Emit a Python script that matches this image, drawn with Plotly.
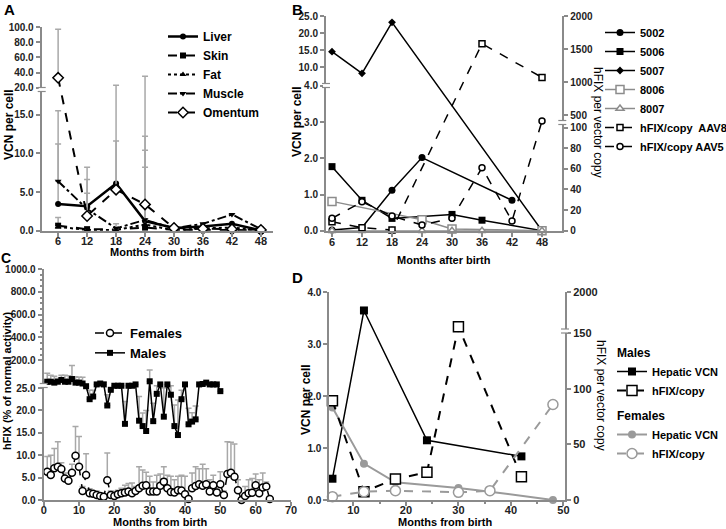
import plotly.graph_objects as go

W, H = 726, 529
FONT = "Arial, Liberation Sans, sans-serif"
GREY = "#8c8c8c"
ERRC = "#a8a8a8"
AXC = "#8a8a8a"

# ---------------- A: VCN per cell by tissue
months_a = [6, 12, 18, 24, 30, 36, 42, 48]
liver = [3.45, 3.15, 6.1, 1.25, 0.35, 0.55, 0.9, 0.05]
skin = [0.65, 0.2, 0.15, 0.4, 0.1, 0.1, 0.1, 0.0]
fat = [0.5, 0.1, 0.1, 0.8, 0.05, 0.3, 0.4, 0.05]
muscle = [6.4, 2.8, 0.3, 1.4, 0.3, 0.9, 2.1, 0.2]
omentum = [33.0, 1.9, 5.3, 3.4, 0.35, 0.25, 0.2, 0.1]
# tops of the one-sided error bars
liver_top = [11.2, 4.85, 11.6, 10.4, None, None, None, None]
skin_top = [1.7, None, None, 8.2, None, None, None, None]
fat_top = [None, None, None, 12.2, None, None, None, None]
muscle_top = [15.5, 8.2, 0.9, None, None, None, None, 0.5]
omentum_top = [97.5, 6.6, 23.0, 35.0, None, None, None, None]
ticks_a = [0, 5, 10, 15, 20, 40, 60, 80, 100]

# ---------------- B: individual animals
months_b = [6, 12, 18, 24, 30, 36, 42, 48]
vcn_5002 = [0.02, 0.09, 1.12, 2.02, None, None, 0.84, None]
vcn_5006 = [1.77, 0.84, 0.34, None, 0.45, 0.29, None, 0.0]
vcn_5007 = [14.56, 8.24, 23.15, None, None, None, None, 0.0]
vcn_8006 = [0.81, None, None, 0.3, 0.05, None, None, 0.0]
vcn_8007 = [0.0, 0.0, 0.0, 0.0, 0.0, 0.0, None, 0.0]
hfix_aav8 = [8.7, 2.9, 0.7, None, None, 1585, None, 1075]
hfix_aav5 = [12, 28, 14.2, 5.5, 12, 61, 9.4, 414]
ticks_bl = [0, 1, 2, 3, 4, 10, 15, 20, 25]
ticks_br = [0, 20, 40, 60, 80, 100, 500, 1000, 1500, 2000]

# ---------------- C: hFIX activity
females = [6.3, 5.6, 7.1, 7.4, 6.9, 4.8, 4.3, 6.1, 9.9, 7.4,
           2.0, 5.6, 1.5, 1.4, 1.1, 0.9, 0.7, 4.4, 1.1, 0.9,
           1.3, 1.5, 1.7, 1.9, 1.5, 2.0, 2.6, 3.2, 3.3, 1.9,
           1.9, 1.9, 3.2, 4.1, 2.6, 1.8, 1.7, 2.2, 2.1, 1.3,
           0.2, 2.6, 3.1, 3.5, 3.2, 3.5, 1.9, 3.3, 1.7, 3.5,
           1.1, 5.8, 6.1, 5.2, 2.2, 0.0, 0.9, 1.5, 1.6, 3.3,
           1.5, 2.8, 3.0, 0.2]
females_top = [9.7, 10.0, 11.5, 13.0, 8.3, 6.0, 5.0, 8.0, 16.4, 14.2,
               3.0, 10.3, 2.5, 2.0, 2.0, 1.5, 1.2, 10.5, 2.0, 1.9,
               2.2, 2.6, 3.3, 3.7, 3.8, 3.0, 7.4, 6.7, 6.2, 5.3,
               4.0, 5.5, 5.8, 7.4, 5.5, 5.3, 4.5, 5.3, 5.5, 5.3,
               2.0, 6.0, 7.4, 7.0, 8.0, 7.0, 4.5, 5.5, 3.5, 6.3,
               2.0, 13.0, 12.9, 12.5, 4.5, 0.5, 3.0, 4.5, 4.8, 5.8,
               4.5, 6.0, 4.0, 0.5]
males = [26.4, 26.4, 26.2, 26.4, 28.0, 26.4, 26.4, 36.0, 26.2, 26.2,
         26.0, 25.4, 22.5, 23.1, 25.8, 26.0, 25.8, 21.1, 24.6, 25.5,
         25.5, 25.5, 17.0, 25.5, 25.5, 25.8, 17.7, 16.5, 15.4, 26.5,
         17.6, 23.7, 25.8, 18.6, 25.8, 23.5, 16.5, 14.5, 22.5, 25.8,
         16.9, 17.5, 18.0, 25.8, 25.9, 26.2, 25.8, 25.8, 25.8, 24.3]
males_top = [87, 70, 60, 40, 70, 70, 65, 155, 55, 52,
             52, None, 24.5, 24.5, None, None, 26.3, 23.5, None, None,
             None, None, 22.0, None, None, None, 23.1, 19.4, 20.0, 115,
             21.6, 25.5, None, 25.0, None, 25.5, 21.2, 22.3, 24.5, None,
             20.5, 19.5, 21.0, None, None, None, None, None, None, None]
months_f = list(range(1, len(females) + 1))
months_m = list(range(1, len(males) + 1))
ticks_c = [0, 5, 10, 15, 20, 25, 200, 400, 600, 800, 1000]

# ---------------- D: males vs females
months_d = [6, 12, 18, 24, 30, 36, 42, 48]
male_vcn = [0.41, 3.65, None, 1.15, None, None, 0.84, None]
male_hfix = [89.4, 7.5, 18.9, 24.9, 156, None, 21, None]
female_vcn = [1.78, 0.70, 0.34, None, 0.23, 0.16, None, 0.0]
female_hfix = [3.0, 7.5, 8.4, None, 6.9, 8.4, None, 86]
ticks_dr = [0, 50, 100, 150, 2000]


# broken axis scales (piecewise linear, like the GraphPad segments)
def a_scale(v):
    return v if v <= 18.3 else 18.49 + (v - 20) * 0.0974


def bl_scale(v):
    return v if v <= 4.02 else 4.514 + (v - 10) * 0.0945


def br_scale(v):
    return v if v <= 100 else 111.8 + (v - 500) * 0.064


def c_scale(v):
    return v if v <= 26.6 else 31.18 + (v - 200) * 0.02548


def d_scale(v):
    return v if v <= 160 else 160 + (v - 160) * 0.014674


def tr(vals, f):
    return [None if v is None else f(v) for v in vals]


def err_up(vals, tops, f):
    out = []
    for v, t in zip(vals, tops):
        out.append(None if (v is None or t is None) else f(t) - f(v))
    return out


def fmt1(v):
    return f"{v:.1f}"


fig = go.Figure()


def add(x, y, f, name, xa, ya, leg, color="black", dash="solid", width=1.5,
        symbol="circle", size=7, open_=False, tops=None, group=None, gtitle=None):
    marker = dict(symbol=symbol, size=size, color="white" if open_ else color,
                  line=dict(color=color, width=1.5 if open_ else 0))
    tr_kw = dict(x=x, y=tr(y, f), name=name, mode="lines+markers",
                 line=dict(color=color, dash=dash, width=width), marker=marker,
                 connectgaps=True, xaxis=xa, yaxis=ya, legend=leg, cliponaxis=False)
    if tops is not None:
        tr_kw["error_y"] = dict(type="data", symmetric=False, array=err_up(y, tops, f),
                                arrayminus=[0] * len(y), color=ERRC, thickness=1.5, width=3)
    if group:
        tr_kw["legendgroup"] = group
        tr_kw["legendgrouptitle"] = dict(text=gtitle, font=dict(family=FONT, size=12, weight="bold"))
    fig.add_trace(go.Scatter(**tr_kw))


# A
add(months_a, liver, a_scale, "Liver", "x", "y", "legend", width=2.5, size=6, tops=liver_top)
add(months_a, skin, a_scale, "Skin", "x", "y", "legend", dash="dash", width=2, symbol="square", size=6, tops=skin_top)
add(months_a, fat, a_scale, "Fat", "x", "y", "legend", dash="dot", width=2, symbol="triangle-up", size=6, tops=fat_top)
add(months_a, muscle, a_scale, "Muscle", "x", "y", "legend", dash="dashdot", width=2, symbol="triangle-down", size=6, tops=muscle_top)
add(months_a, omentum, a_scale, "Omentum", "x", "y", "legend", dash="dash", width=2, symbol="diamond", size=8, open_=True, tops=omentum_top)

# B
add(months_b, vcn_5002, bl_scale, "5002", "x2", "y2", "legend2")
add(months_b, vcn_5006, bl_scale, "5006", "x2", "y2", "legend2", symbol="square")
add(months_b, vcn_5007, bl_scale, "5007", "x2", "y2", "legend2", symbol="diamond", size=6)
add(months_b, vcn_8006, bl_scale, "8006", "x2", "y2", "legend2", color=GREY, symbol="square", size=8, open_=True)
add(months_b, vcn_8007, bl_scale, "8007", "x2", "y2", "legend2", color=GREY, symbol="triangle-up", size=7, open_=True)
add(months_b, hfix_aav8, br_scale, "hFIX/copy  AAV8", "x2", "y3", "legend2", dash="dash", symbol="square", size=6, open_=True)
add(months_b, hfix_aav5, br_scale, "hFIX/copy AAV5", "x2", "y3", "legend2", dash="dash", symbol="circle", size=6, open_=True)

# C
add(months_f, females, c_scale, "Females", "x3", "y4", "legend3", dash="dash", symbol="circle", size=7, open_=True, tops=females_top)
add(months_m, males, c_scale, "Males", "x3", "y4", "legend3", symbol="square", size=6, tops=males_top)

# D
add(months_d, male_vcn, lambda v: v, "Hepatic VCN", "x4", "y5", "legend4", symbol="square", size=8, group="m", gtitle="Males")
add(months_d, male_hfix, d_scale, "hFIX/copy", "x4", "y6", "legend4", dash="dash", width=2, symbol="square", size=10, open_=True, group="m", gtitle="Males")
add(months_d, female_vcn, lambda v: v, "Hepatic VCN", "x4", "y5", "legend4", color="#9a9a9a", width=2, symbol="circle", size=8, group="f", gtitle="Females")
add(months_d, female_hfix, d_scale, "hFIX/copy", "x4", "y6", "legend4", color="#9a9a9a", dash="dash", width=2, symbol="circle", size=10, open_=True, group="f", gtitle="Females")


def px(p):
    return p / W


def py(p):
    return 1 - p / H


tickfont = dict(family=FONT, size=10, color="#222", weight="bold")
xtickfont = dict(family=FONT, size=11, color="#222", weight="bold")
axis_common = dict(showline=True, linecolor=AXC, linewidth=2, ticks="outside", ticklen=4,
                   tickcolor=AXC, tickwidth=1.5, showgrid=False, zeroline=False)

fig.update_layout(
    width=W, height=H, margin=dict(l=0, r=0, t=0, b=0, autoexpand=False),
    paper_bgcolor="white", plot_bgcolor="white",
    font=dict(family=FONT, color="black"),
    xaxis=dict(domain=[px(41.7), px(273)], range=[2.6, 50.5], anchor="y",
               tickvals=months_a, tickfont=xtickfont, ticklabelstandoff=-5, **axis_common),
    yaxis=dict(domain=[py(230.7), py(27.3)], range=[0, a_scale(100)], anchor="x",
               tickvals=tr(ticks_a, a_scale), ticktext=[fmt1(t) for t in ticks_a],
               tickfont=tickfont, **axis_common),
    xaxis2=dict(domain=[px(326), px(562.3)], range=[4.8, 52.06], anchor="y2",
                tickvals=months_b, tickfont=xtickfont, ticklabelstandoff=-4, **axis_common),
    yaxis2=dict(domain=[py(230.7), py(16)], range=[0, bl_scale(25)], anchor="x2",
                tickvals=tr(ticks_bl, bl_scale), ticktext=[fmt1(t) for t in ticks_bl],
                tickfont=tickfont, **axis_common),
    yaxis3=dict(overlaying="y2", side="right", anchor="x2", range=[0, br_scale(2000) + 0.3],
                tickvals=tr(ticks_br, br_scale), ticktext=[str(t) for t in ticks_br],
                tickfont=tickfont, **axis_common),
    xaxis3=dict(domain=[px(43.7), px(291)], range=[0, 70], anchor="y4", dtick=10,
                tickfont=xtickfont, ticklabelstandoff=-5, **axis_common),
    yaxis4=dict(domain=[py(500), py(269)], range=[0, c_scale(1000)], anchor="x3",
                tickvals=tr(ticks_c, c_scale), ticktext=[fmt1(t) for t in ticks_c],
                minor=dict(tickvals=tr(list(range(250, 1000, 50)), c_scale), ticklen=2,
                           tickcolor=AXC, ticks="outside"),
                tickfont=tickfont, **axis_common),
    xaxis4=dict(domain=[px(329.3), px(565)], range=[5.4, 50.3], anchor="y5",
                tickvals=[10, 20, 30, 40, 50], tickfont=xtickfont, ticklabelstandoff=-5,
                minor=dict(tickvals=[15, 25, 35, 45], ticklen=2, tickcolor=AXC, ticks="outside"),
                **axis_common),
    yaxis5=dict(domain=[py(500), py(292.3)], range=[0, 4], anchor="x4",
                tickvals=[0, 1, 2, 3, 4], ticktext=["0.0", "1.0", "2.0", "3.0", "4.0"],
                tickfont=dict(family=FONT, size=10, color="#222", weight="bold"), **axis_common),
    yaxis6=dict(overlaying="y5", side="right", anchor="x4", range=[0, d_scale(2000)],
                tickvals=tr(ticks_dr, d_scale), ticktext=[str(t) for t in ticks_dr],
                tickfont=dict(family=FONT, size=11, color="#222", weight="bold"), **axis_common),
    legend=dict(x=px(163), y=py(22), xanchor="left", yanchor="top", bgcolor="rgba(0,0,0,0)",
                font=dict(family=FONT, size=12, weight="bold"), itemwidth=30, tracegroupgap=0),
    legend2=dict(x=px(600), y=py(18), xanchor="left", yanchor="top", bgcolor="rgba(0,0,0,0)",
                 font=dict(family=FONT, size=11, weight="bold"), itemwidth=30),
    legend3=dict(x=px(90), y=py(318), xanchor="left", yanchor="top", bgcolor="rgba(0,0,0,0)",
                 font=dict(family=FONT, size=13, weight="bold"), itemwidth=30),
    legend4=dict(x=px(612), y=py(338), xanchor="left", yanchor="top", bgcolor="rgba(0,0,0,0)",
                 font=dict(family=FONT, size=11, weight="bold"), itemwidth=30, tracegroupgap=6),
    showlegend=True,
)

# axis breaks
for bx, by in [(41.7, 89.5), (326, 85.5), (562.3, 122.5), (43.7, 385.5), (565, 331)]:
    fig.add_shape(type="rect", xref="paper", yref="paper", x0=px(bx - 3), x1=px(bx + 3),
                  y0=py(by + 2), y1=py(by - 2), fillcolor="white", line=dict(width=0), layer="above")
    for dy in (-2, 2):
        fig.add_shape(type="line", xref="paper", yref="paper", x0=px(bx - 4), x1=px(bx + 4),
                      y0=py(by + dy), y1=py(by + dy), line=dict(color=AXC, width=1.2), layer="above")


def note(text, x, y, size=11, angle=0, bold=True):
    fig.add_annotation(text=text, x=px(x), y=py(y), xref="paper", yref="paper", showarrow=False,
                       textangle=angle, xanchor="center", yanchor="middle",
                       font=dict(family=FONT, size=size, color="black", weight="bold" if bold else "normal"))


note("A", 9, 9, size=15)
note("B", 297, 9, size=15)
note("C", 6, 258, size=14)
note("D", 297, 277, size=15)
note("VCN per cell", 9, 125, size=12, angle=-90)
note("Months from birth", 157, 252)
note("VCN per cell", 297, 122, size=12, angle=-90)
note("Months after birth", 444, 260)
note("hFIX per vector copy", 598, 122, size=12, angle=90, bold=False)
note("hFIX (% of normal activity)", 7, 381, angle=-90)
note("Months from birth", 160, 522)
note("VCN per cell", 306, 400, size=12, angle=-90)
note("Months from birth", 445, 522)
note("hFIX per vector copy", 601, 395, size=12, angle=90, bold=False)

# the page body has a default 8px margin; drop it so the figure sits at the corner
fig.write_html("out.html", config={"displayModeBar": False},
               post_script="document.body.style.margin='0';")
